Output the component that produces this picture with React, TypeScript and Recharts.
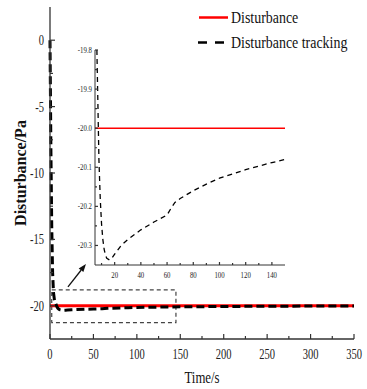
import { LineChart, Line, XAxis, YAxis, Legend, ReferenceArea, ReferenceLine } from 'recharts';

// sample times (s) and tracked disturbance (Pa)
const times = [0, 1, 2, 3, 4, 5, 6, 7, 8, 9, 10, 11, 12, 13, 14, 16, 18, 20, 25, 30, 40, 50, 60, 63, 66, 70, 80, 90, 100, 110, 120, 130, 140, 150, 175, 200, 250, 300, 350];
const tracking = [0, -8, -14, -17.5, -19, -19.5, -19.72, -19.9, -20.08, -20.18, -20.245, -20.285, -20.31, -20.325, -20.333, -20.337, -20.332, -20.322, -20.3, -20.285, -20.26, -20.24, -20.222, -20.205, -20.19, -20.18, -20.16, -20.143, -20.128, -20.117, -20.106, -20.097, -20.088, -20.08, -20.065, -20.05, -20.035, -20.02, -20.012];
const disturbanceLevel = -20;
const disturbance = times.map(() => disturbanceLevel);

const mainXMajor = [0, 50, 100, 150, 200, 250, 300, 350];
const mainXMinor = [25, 75, 125, 175, 225, 275, 325];
const mainYMajor = [-20, -15, -10, -5, 0];
const mainYMinor = [-17.5, -12.5, -7.5, -2.5];

const insetXMajor = [20, 40, 60, 80, 100, 120, 140];
const insetXMinor = [10, 30, 50, 70, 90, 110, 130];
const insetYMajor = [-20.3, -20.2, -20.1, -20.0, -19.9, -19.8];
const insetYMinor = [-20.25, -20.15, -20.05, -19.95, -19.85];

// zoom box and arrow (data coordinates)
const zoomBox = { x1: 2, x2: 145, y1: -21.27, y2: -18.8 };
const arrowSeg = [{ x: 20.7, y: -18.58 }, { x: 41.4, y: -16.85 }];

const data = times.map((t, i) => ({ t, disturbance: disturbance[i], tracking: tracking[i] }));

const FONT = '"Liberation Serif", "Times New Roman", serif';
const AXIS = '#333';

const makeXTick = (majors: number[], gap: number, len: number, minorLen: number, fs: number, sx: number, fmt: (v: number) => string) =>
  (props: any) => {
    const { x, y, payload } = props;
    const major = majors.includes(payload.value);
    const ay = y - gap;
    return (
      <g>
        <line x1={x} y1={ay} x2={x} y2={ay - (major ? len : minorLen)} stroke={AXIS} strokeWidth={1.2} />
        {major && (
          <text transform={`translate(${x},${y}) scale(${sx},1)`} textAnchor="middle" dy="0.71em" fontSize={fs} fontFamily={FONT} fill="#222">
            {fmt(payload.value)}
          </text>
        )}
      </g>
    );
  };

const makeYTick = (majors: number[], gap: number, len: number, minorLen: number, fs: number, sx: number, fmt: (v: number) => string) =>
  (props: any) => {
    const { x, y, payload } = props;
    const major = majors.some((m) => Math.abs(m - payload.value) < 1e-6);
    const ax = x + gap;
    return (
      <g>
        <line x1={ax} y1={y} x2={ax + (major ? len : minorLen)} y2={y} stroke={AXIS} strokeWidth={1.2} />
        {major && (
          <text transform={`translate(${x},${y}) scale(${sx},1)`} textAnchor="end" dy="0.355em" fontSize={fs} fontFamily={FONT} fill="#222">
            {fmt(payload.value)}
          </text>
        )}
      </g>
    );
  };

const ArrowShape = (props: any) => {
  const { x1, y1, x2, y2 } = props;
  const ang = Math.atan2(y2 - y1, x2 - x1);
  const hl = 8;
  const hw = 3;
  const bx = x2 - hl * Math.cos(ang);
  const by = y2 - hl * Math.sin(ang);
  const px = -Math.sin(ang) * hw;
  const py = Math.cos(ang) * hw;
  return (
    <g>
      <line x1={x1} y1={y1} x2={bx} y2={by} stroke="#111" strokeWidth={1.3} />
      <polygon points={`${x2},${y2} ${bx + px},${by + py} ${bx - px},${by - py}`} fill="#111" />
    </g>
  );
};

const LegendContent = () => (
  <div style={{ fontFamily: FONT, fontSize: 16, color: '#111' }}>
    <div style={{ height: 25, display: 'flex', alignItems: 'center' }}>
      <svg width={36} height={25}>
        <line x1={4} y1={12.5} x2={33} y2={12.5} stroke="#ff0000" strokeWidth={2.5} />
      </svg>
      <span style={{ display: 'inline-block', transform: 'scaleX(0.87)', transformOrigin: 'left center', whiteSpace: 'nowrap' }}>Disturbance</span>
    </div>
    <div style={{ height: 25, display: 'flex', alignItems: 'center' }}>
      <svg width={36} height={25}>
        <line x1={3} y1={12.5} x2={30} y2={12.5} stroke="#000" strokeWidth={2.5} strokeDasharray="9 8" />
      </svg>
      <span style={{ display: 'inline-block', transform: 'scaleX(0.87)', transformOrigin: 'left center', whiteSpace: 'nowrap' }}>Disturbance tracking</span>
    </div>
  </div>
);

const App = () => {
  return (
    <div style={{ position: 'absolute', left: 0, top: 0, width: 367, height: 389, background: '#fff' }}>
      <LineChart width={367} height={389} data={data} margin={{ top: 7, right: 13, bottom: 20, left: 15 }}>
        <XAxis
          dataKey="t"
          type="number"
          domain={[0, 350]}
          ticks={[...mainXMajor, ...mainXMinor].sort((a, b) => a - b)}
          interval={0}
          tickSize={0}
          tickMargin={10}
          tickLine={false}
          tick={makeXTick(mainXMajor, 10, 5, 3, 14, 0.75, (v) => String(v))}
          axisLine={{ stroke: AXIS, strokeWidth: 1.3 }}
          height={30}
          label={{
            content: (p: any) => {
              const vb = p.viewBox;
              return (
                <text transform={`translate(${vb.x + vb.width / 2},${383}) scale(0.8,1)`} textAnchor="middle" fontSize={16} fontFamily={FONT} fill="#111">
                  Time/s
                </text>
              );
            },
          }}
        />
        <XAxis xAxisId="top" dataKey="t" type="number" domain={[0, 350]} orientation="top" height={0} tick={false} tickLine={false} axisLine={{ stroke: AXIS, strokeWidth: 1.3 }} />
        <YAxis
          type="number"
          domain={[-22.5, 2.5]}
          allowDataOverflow
          ticks={[...mainYMajor, ...mainYMinor].sort((a, b) => a - b)}
          interval={0}
          tickSize={0}
          tickMargin={6}
          tickLine={false}
          tick={makeYTick(mainYMajor, 6, 5, 3, 14, 0.75, (v) => String(v))}
          axisLine={{ stroke: AXIS, strokeWidth: 1.3 }}
          width={35}
          label={{
            content: (p: any) => {
              const vb = p.viewBox;
              const cx = vb.x + 5;
              const cy = vb.y + vb.height / 2;
              return (
                <text transform={`translate(${cx},${cy}) rotate(-90)`} textAnchor="middle" dy="0.35em" fontSize={16} fontWeight="bold" fontFamily={FONT} fill="#111">
                  Disturbance/Pa
                </text>
              );
            },
          }}
        />
        <YAxis yAxisId="right" orientation="right" domain={[-22.5, 2.5]} width={0} tick={false} tickLine={false} axisLine={{ stroke: AXIS, strokeWidth: 1.3 }} />
        <Legend
          layout="vertical"
          align="center"
          verticalAlign="middle"
          wrapperStyle={{ left: 195, top: 5, width: 170 }}
          content={LegendContent}
        />
        <ReferenceArea
          x1={zoomBox.x1}
          x2={zoomBox.x2}
          y1={zoomBox.y1}
          y2={zoomBox.y2}
          fill="none"
          fillOpacity={0}
          stroke="#444"
          strokeWidth={1.2}
          strokeDasharray="4 3"
        />
        <Line dataKey="disturbance" name="Disturbance" stroke="#ff0000" strokeWidth={3} dot={false} isAnimationActive={false} />
        <Line dataKey="tracking" name="Disturbance tracking" stroke="#000" strokeWidth={3} strokeDasharray="8 4" dot={false} isAnimationActive={false} />
        <ReferenceLine segment={arrowSeg} shape={ArrowShape} />
      </LineChart>

      <div style={{ position: 'absolute', left: 60, top: 43 }}>
        <LineChart width={230} height={242} data={data} margin={{ top: 7, right: 5, bottom: 0, left: 0 }}>
          <XAxis
            dataKey="t"
            type="number"
            domain={[5, 150]}
            allowDataOverflow
            ticks={[...insetXMajor, ...insetXMinor].sort((a, b) => a - b)}
            interval={0}
            tickSize={0}
            tickMargin={7}
            tickLine={false}
            tick={makeXTick(insetXMajor, 7, 3, 2, 8, 0.85, (v) => String(v))}
            axisLine={{ stroke: AXIS, strokeWidth: 1 }}
            height={20}
          />
          <XAxis xAxisId="top" dataKey="t" type="number" domain={[5, 150]} allowDataOverflow orientation="top" height={0} tick={false} tickLine={false} axisLine={{ stroke: AXIS, strokeWidth: 1 }} />
          <YAxis
            type="number"
            domain={[-20.35, -19.8]}
            allowDataOverflow
            ticks={[...insetYMajor, ...insetYMinor].sort((a, b) => a - b)}
            interval={0}
            tickSize={0}
            tickMargin={3}
            tickLine={false}
            tick={makeYTick(insetYMajor, 3, 3, 2, 8, 0.85, (v) => v.toFixed(1))}
            axisLine={{ stroke: AXIS, strokeWidth: 1 }}
            width={35}
          />
          <YAxis yAxisId="right" orientation="right" domain={[-20.35, -19.8]} allowDataOverflow width={0} tick={false} tickLine={false} axisLine={{ stroke: AXIS, strokeWidth: 1 }} />
          <Line dataKey="disturbance" stroke="#ff0000" strokeWidth={1.6} dot={false} isAnimationActive={false} />
          <Line dataKey="tracking" stroke="#000" strokeWidth={1.3} strokeDasharray="5 4" dot={false} isAnimationActive={false} />
        </LineChart>
      </div>
    </div>
  );
};

export default App;
